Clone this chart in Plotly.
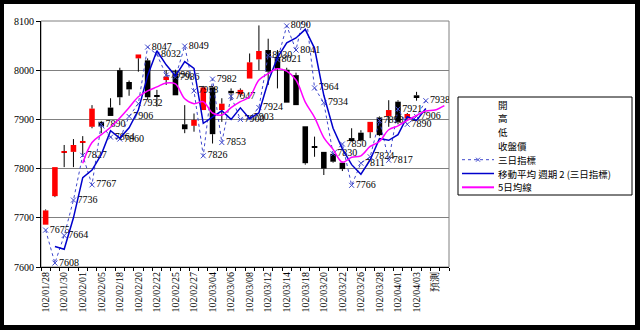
import plotly.graph_objects as go

dates = ["102/01/28","102/01/29","102/01/30","102/01/31","102/02/01","102/02/04","102/02/05","102/02/06",
         "102/02/18","102/02/19","102/02/20","102/02/21","102/02/22","102/02/23","102/02/25","102/02/26",
         "102/02/27","102/03/01","102/03/04","102/03/05","102/03/06","102/03/07","102/03/08","102/03/11",
         "102/03/12","102/03/13","102/03/14","102/03/15","102/03/18","102/03/19","102/03/20","102/03/21",
         "102/03/22","102/03/25","102/03/26","102/03/27","102/03/28","102/03/29","102/04/01","102/04/02",
         "102/04/03","","預測",""]

opens  = [7686,7744,7833,7834,7853,7885,7895,7924,8000,7976,8024,8020,7948,7980,7993,7890,7887,7919,7965,7919,
          7958,7951,7983,8022,8041,8027,8001,7990,7886,7844,7834,7830,7812,7862,7873,7874,7904,7907,7936,7902,7949]
highs  = [7717,7803,7848,7860,7866,7929,7897,7943,8005,7979,8032,8024,7960,8000,8001,7929,7912,7968,7968,7943,
          7963,7963,8034,8091,8064,8041,8005,7995,7886,7865,7834,7832,7814,7882,7878,7895,7906,7939,7939,7913,7956]
lows   = [7686,7742,7803,7803,7826,7882,7872,7907,7929,7948,7997,7940,7926,7970,7949,7872,7875,7919,7851,7895,
          7939,7945,7983,8000,7970,7963,7934,7929,7808,7824,7787,7812,7795,7855,7855,7862,7866,7885,7890,7900,7938]
closes = [7715,7803,7835,7848,7856,7922,7886,7907,7945,7961,8032,7945,7947,7987,7949,7880,7899,7965,7870,7932,
          7953,7960,8016,8039,7997,8003,7934,7929,7811,7842,7800,7814,7799,7858,7857,7895,7868,7919,7895,7911,7945]

three_day = [7675,7608,7664,7736,7827,7767,7890,7864,7860,7906,7932,8047,8032,7990,7986,8049,7958,7826,7982,7853,
             7947,7900,7903,7924,8030,8021,8090,8041,8125,7964,7934,7830,7850,7766,7811,7824,7898,7817,7921,7890,
             7906,7938]

ma5 = [None,None,None,None,7811,7853,7869,7884,7903,7924,7946,7958,7966,7974,7972,7942,7932,7936,7913,7909,
       7924,7936,7946,7980,7993,8003,7998,7980,7935,7904,7863,7839,7813,7823,7826,7845,7855,7879,7887,7898,
       7908,7917,7919,7928]

y_ticks = [7600,7700,7800,7900,8000,8100]
legend_names = ["開", "高", "低", "收盤價", "三日指標", "移動平均 週期 2 (三日指標)", "5日均線"]

C3 = "#3F48CC"
CMA = "#0000CC"
C5 = "#FF00FF"

n = len(dates)
idx = list(range(n))

fig = go.Figure()

# candle bodies
body_base = [min(o, c) for o, c in zip(opens, closes)]
body_h = [abs(c - o) for o, c in zip(opens, closes)]
body_col = ["#FF0000" if c > o else "#000000" for o, c in zip(opens, closes)]
fig.add_trace(go.Bar(x=idx[:len(opens)], y=body_h, base=body_base, width=0.6,
                     marker=dict(color=body_col, line=dict(width=0)), showlegend=False, hoverinfo="skip"))

# wicks
wx, wy = [], []
for i, (o, h, l, c) in enumerate(zip(opens, highs, lows, closes)):
    top, bot = max(o, c), min(o, c)
    if h > top:
        wx += [i, i, None]; wy += [top, h, None]
    if l < bot:
        wx += [i, i, None]; wy += [bot, l, None]
fig.add_trace(go.Scatter(x=wx, y=wy, mode="lines", line=dict(color="#000000", width=1),
                         showlegend=False, hoverinfo="skip"))

labels = [str(v) if 7600 <= v <= 8100 else "" for v in three_day]
fig.add_trace(go.Scatter(x=idx[:len(three_day)], y=three_day, mode="lines+markers+text", name=legend_names[4],
                         line=dict(color=C3, width=1, dash="dot"),
                         marker=dict(symbol="x-thin", size=5, line=dict(color=C3, width=1)),
                         text=labels, textposition="middle right", showlegend=False,
                         textfont=dict(family="Liberation Serif", size=10, color="#000000")))

ma2 = [None] + [(three_day[i - 1] + three_day[i]) / 2 for i in range(1, len(three_day))]
fig.add_trace(go.Scatter(x=idx[:len(three_day)], y=ma2, mode="lines", name=legend_names[5],
                         line=dict(color=CMA, width=1.5), showlegend=False))

fig.add_trace(go.Scatter(x=idx, y=ma5, mode="lines", name=legend_names[6], line_shape="spline",
                         line=dict(color=C5, width=1.5), showlegend=False))

# ---- pixel -> paper helpers (plot area: x 41..449, y 21..267)
L, R, T, B = 41, 191, 21, 63
PW, PH = 640 - L - R, 330 - T - B
def px(x):
    return (x - L) / PW
def py(y):
    return (330 - B - y) / PH

row_y = [104.5, 118.3, 132.1, 145.9, 159.7, 173.5, 187.3]
box_top, box_bot = 97, 195

shapes = [
    dict(type="rect", xref="paper", yref="paper", x0=px(4), x1=px(635), y0=py(325), y1=py(4),
         fillcolor="#FFFFFF", line=dict(width=0), layer="below"),
    dict(type="rect", xref="paper", yref="paper", x0=0, x1=1, y0=0, y1=1,
         line=dict(color="#808080", width=1), layer="below"),
    dict(type="rect", xref="paper", yref="paper", x0=px(458), x1=px(632), y0=py(box_bot), y1=py(box_top),
         fillcolor="#FFFFFF", line=dict(color="#000000", width=1), layer="above"),
]
annotations = []
for name, yy in zip(legend_names, row_y):
    annotations.append(dict(xref="paper", yref="paper", x=px(496), y=py(yy), text=name, showarrow=False,
                            xanchor="left", yanchor="middle",
                            font=dict(family="Noto Sans CJK TC", size=9.5, color="#000000")))
y3, ym, y5 = row_y[4], row_y[5], row_y[6]
shapes.append(dict(type="line", xref="paper", yref="paper", x0=px(462), x1=px(494), y0=py(y3), y1=py(y3),
                   line=dict(color=C3, width=1, dash="dot")))
shapes.append(dict(type="line", xref="paper", yref="paper", x0=px(476), x1=px(480), y0=py(y3 - 2), y1=py(y3 + 2),
                   line=dict(color=C3, width=1)))
shapes.append(dict(type="line", xref="paper", yref="paper", x0=px(476), x1=px(480), y0=py(y3 + 2), y1=py(y3 - 2),
                   line=dict(color=C3, width=1)))
shapes.append(dict(type="line", xref="paper", yref="paper", x0=px(462), x1=px(494), y0=py(ym), y1=py(ym),
                   line=dict(color=CMA, width=1.5)))
shapes.append(dict(type="line", xref="paper", yref="paper", x0=px(462), x1=px(494), y0=py(y5), y1=py(y5),
                   line=dict(color=C5, width=2)))

tv = list(range(0, n, 2))
fig.update_layout(
    width=640, height=330,
    margin=dict(l=L, r=R, t=T, b=B),
    paper_bgcolor="#000000", plot_bgcolor="#FFFFFF",
    barmode="overlay", showlegend=False,
    font=dict(family="Liberation Serif", size=10, color="#000000"),
    xaxis=dict(range=[-0.5, n - 0.5], tickvals=tv, ticktext=[dates[i] for i in tv], tickangle=-90,
               ticks="", showgrid=False, showline=True, linecolor="#000000", linewidth=1,
               tickfont=dict(family="Liberation Serif", size=10),
               minor=dict(ticks="outside", tick0=0.5, dtick=1, ticklen=3, tickcolor="#000000"),
               zeroline=False),
    yaxis=dict(range=[7600, 8100], tickvals=y_ticks, ticks="outside", ticklen=4, tickcolor="#000000",
               showgrid=True, gridcolor="#808080", gridwidth=1, showline=True, linecolor="#000000",
               tickfont=dict(family="Liberation Serif", size=10), zeroline=False),
    shapes=shapes,
    annotations=annotations,
)

fig.write_html("out.html")
